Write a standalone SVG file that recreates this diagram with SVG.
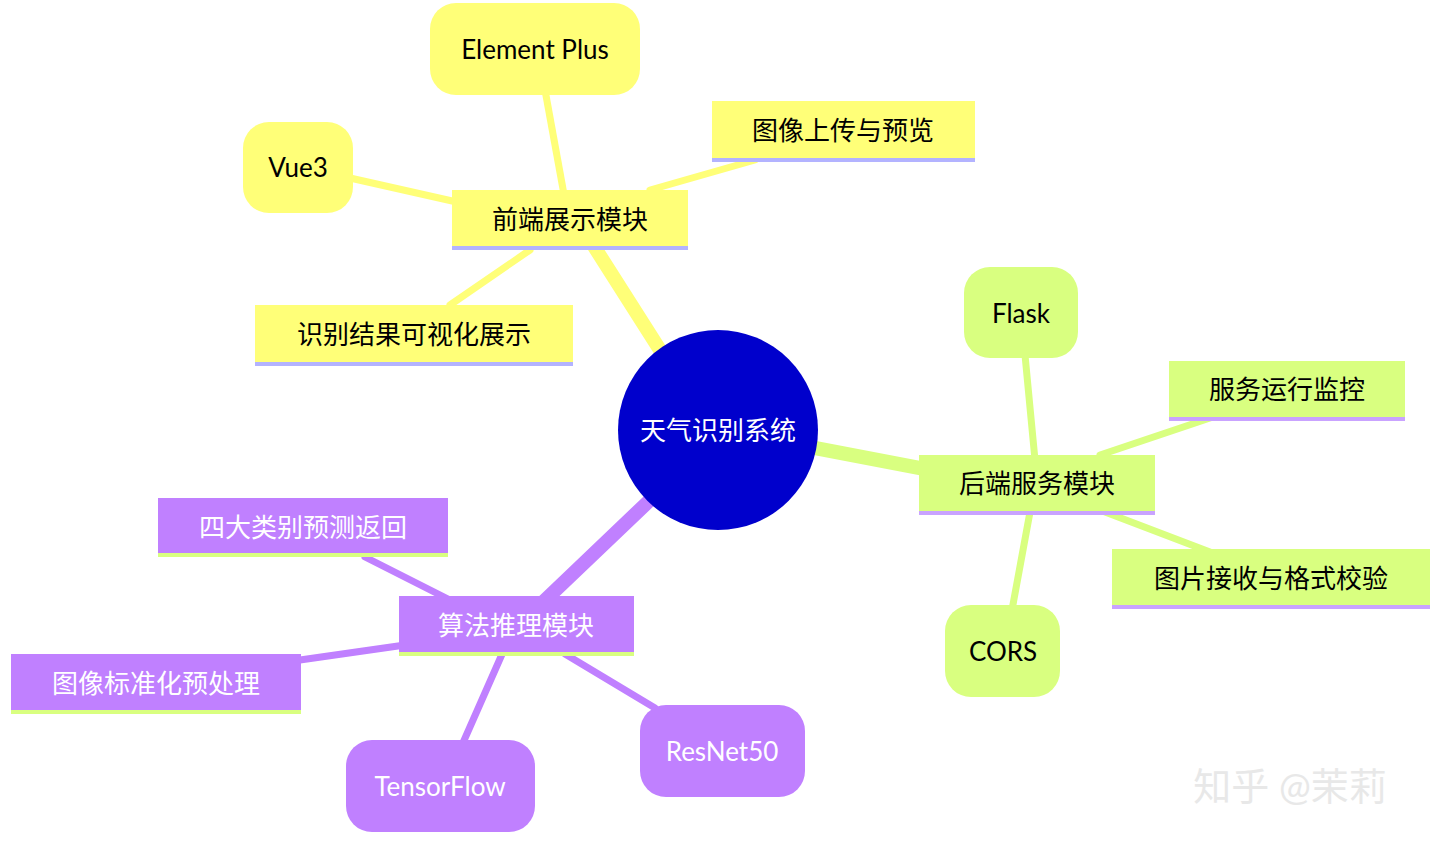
<svg xmlns="http://www.w3.org/2000/svg" width="1440" height="843" viewBox="0 0 1440 843">
<style>
text{font-family:"Lato","Noto Sans CJK SC",sans-serif;font-size:26px;text-anchor:middle;dominant-baseline:central}
.y{fill:#ffff78}.g{fill:#d9ff80}.p{fill:#c080ff}
.wt{fill:#fff}.bt{fill:#000}
.cy{stroke:#ffff78;fill:none;stroke-linecap:round}
.cg{stroke:#d9ff80;fill:none;stroke-linecap:round}
.cp{stroke:#c080ff;fill:none;stroke-linecap:round}
</style>
<rect width="1440" height="843" fill="#fff"/>
<g id="connectors">
<path class="cy" stroke-width="14" d="M660 350 L590 240"/>
<path class="cy" stroke-width="7" d="M565 200 L545 90"/>
<path class="cy" stroke-width="7" d="M470 205 L350 178"/>
<path class="cy" stroke-width="7" d="M650 190 L755 160"/>
<path class="cy" stroke-width="7" d="M530 250 L450 305"/>
<path class="cg" stroke-width="14" d="M815 448 L930 470"/>
<path class="cg" stroke-width="7" d="M1035 460 L1025 355"/>
<path class="cg" stroke-width="7" d="M1100 455 L1210 418"/>
<path class="cg" stroke-width="7" d="M1105 512 L1210 552"/>
<path class="cg" stroke-width="7" d="M1030 512 L1012 610"/>
<path class="cp" stroke-width="14" d="M650 500 L540 605"/>
<path class="cp" stroke-width="7" d="M450 600 L365 557"/>
<path class="cp" stroke-width="7" d="M405 645 L300 660"/>
<path class="cp" stroke-width="7" d="M503 652 L462 745"/>
<path class="cp" stroke-width="7" d="M565 654 L655 708"/>
</g>
<g id="center"><circle cx="718" cy="430" r="100" fill="#0000cc"/><text class="wt" x="718" y="430">天气识别系统</text></g>
<g id="n-front"><rect class="y" x="452" y="190" width="236" height="58"/><rect x="452" y="246" width="236" height="4" fill="#b3b3ff"/><text class="bt" x="570" y="219">前端展示模块</text></g>
<g id="n-ep"><rect class="y" x="430" y="3" width="210" height="92" rx="26"/><text class="bt" x="535" y="49">Element Plus</text></g>
<g id="n-vue"><rect class="y" x="243" y="122" width="110" height="91" rx="26"/><text class="bt" x="298" y="167">Vue3</text></g>
<g id="n-upload"><rect class="y" x="712" y="101" width="263" height="59"/><rect x="712" y="158" width="263" height="4" fill="#b3b3ff"/><text class="bt" x="843" y="130">图像上传与预览</text></g>
<g id="n-vis"><rect class="y" x="255" y="305" width="318" height="59"/><rect x="255" y="362" width="318" height="4" fill="#b3b3ff"/><text class="bt" x="414" y="334">识别结果可视化展示</text></g>
<g id="n-back"><rect class="g" x="919" y="455" width="236" height="58"/><rect x="919" y="511" width="236" height="4" fill="#c9a3ff"/><text class="bt" x="1037" y="483">后端服务模块</text></g>
<g id="n-flask"><rect class="g" x="964" y="267" width="114" height="91" rx="26"/><text class="bt" x="1021" y="313">Flask</text></g>
<g id="n-mon"><rect class="g" x="1169" y="361" width="236" height="58"/><rect x="1169" y="417" width="236" height="4" fill="#c9a3ff"/><text class="bt" x="1287" y="389">服务运行监控</text></g>
<g id="n-recv"><rect class="g" x="1112" y="549" width="318" height="58"/><rect x="1112" y="605" width="318" height="4" fill="#c9a3ff"/><text class="bt" x="1271" y="578">图片接收与格式校验</text></g>
<g id="n-cors"><rect class="g" x="945" y="605" width="115" height="92" rx="26"/><text class="bt" x="1003" y="651">CORS</text></g>
<g id="n-algo"><rect class="p" x="399" y="596" width="235" height="58"/><rect x="399" y="652" width="235" height="4" fill="#d9ff80"/><text class="wt" x="516" y="625">算法推理模块</text></g>
<g id="n-pred"><rect class="p" x="158" y="498" width="290" height="57"/><rect x="158" y="553" width="290" height="4" fill="#d9ff80"/><text class="wt" x="303" y="527">四大类别预测返回</text></g>
<g id="n-pre"><rect class="p" x="11" y="654" width="290" height="58"/><rect x="11" y="710" width="290" height="4" fill="#d9ff80"/><text class="wt" x="156" y="683">图像标准化预处理</text></g>
<g id="n-tf"><rect class="p" x="346" y="740" width="189" height="92" rx="26"/><text class="wt" x="440" y="786">TensorFlow</text></g>
<g id="n-res"><rect class="p" x="640" y="705" width="165" height="92" rx="26"/><text class="wt" x="722" y="751">ResNet50</text></g>
<text x="1290" y="785" style="font-size:38px;fill:#e8e8e8">知乎 @茉莉</text>
</svg>
